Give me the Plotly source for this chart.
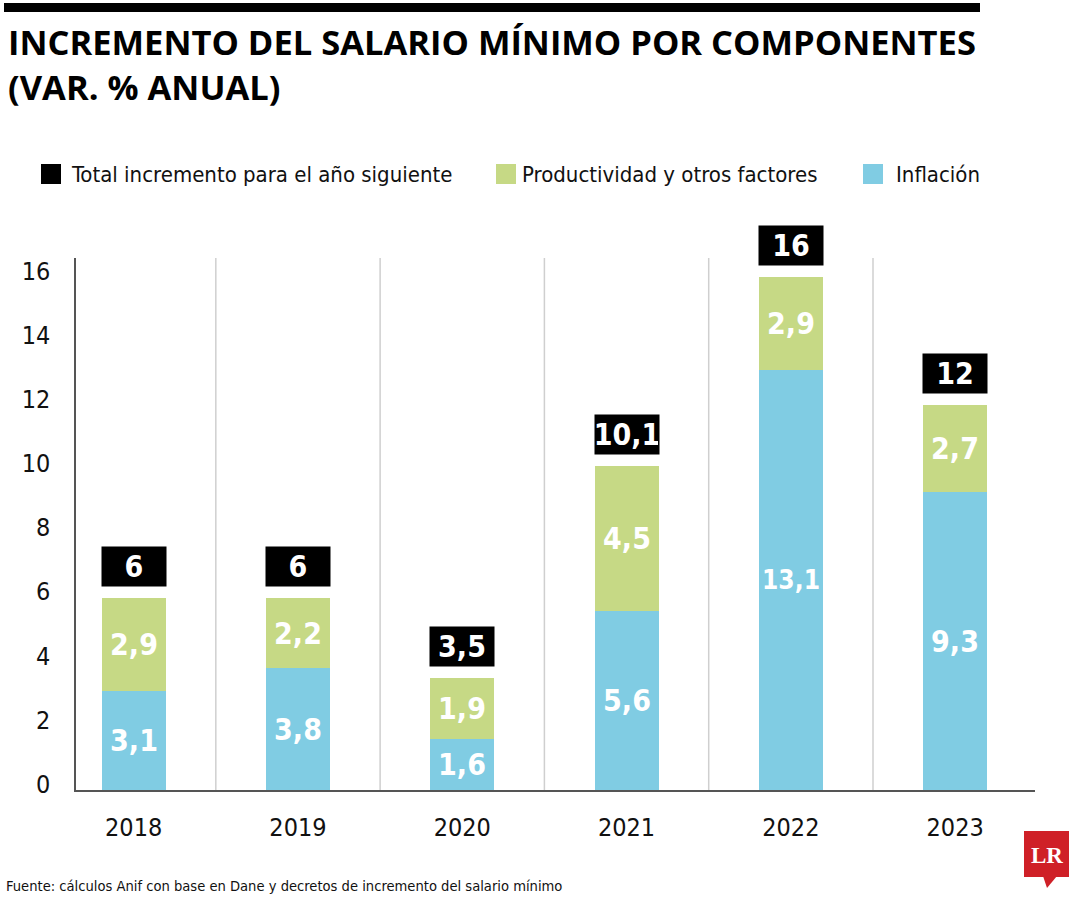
import plotly.graph_objects as go

# ---- data ----
years = ["2018", "2019", "2020", "2021", "2022", "2023"]
inflacion = [3.1, 3.8, 1.6, 5.6, 13.1, 9.3]
productividad = [2.9, 2.2, 1.9, 4.5, 2.9, 2.7]
total = [6, 6, 3.5, 10.1, 16, 12]
y_ticks = [0, 2, 4, 6, 8, 10, 12, 14, 16]

series_names = ["Total incremento para el año siguiente", "Productividad y otros factores", "Inflación"]

BLUE = "#80cce3"
GREEN = "#c6d985"
COND = "DejaVu Sans Condensed, Roboto, sans-serif"

W, H = 1080, 900
L, R, T, B = 76, 1035, 258, 790


def fmt(v):
    return (f"{v:g}").replace(".", ",")


def px(x):
    return (x - L) / (R - L)


def py(y):
    return (B - y) / (B - T)


xpos = list(range(len(years)))

fig = go.Figure()
fig.add_trace(go.Bar(
    x=xpos, y=inflacion, name=series_names[2], marker_color=BLUE, marker_line_width=0,
    width=0.39, text=[fmt(v) for v in inflacion], textposition="inside",
    insidetextanchor="middle", textangle=0,
    textfont=dict(family=COND, size=30, color="white", weight="bold"), showlegend=False,
))
fig.add_trace(go.Bar(
    x=xpos, y=productividad, name=series_names[1], marker_color=GREEN, marker_line_width=0,
    width=0.39, text=[fmt(v) for v in productividad], textposition="inside",
    insidetextanchor="middle", textangle=0,
    textfont=dict(family=COND, size=30, color="white", weight="bold"), showlegend=False,
))

# total boxes
for i, t in enumerate(total):
    fig.add_annotation(
        x=i, y=t, xref="x", yref="y", text=f"<b>{fmt(t)}</b>", showarrow=False,
        xanchor="center", yanchor="bottom", yshift=11, bgcolor="black", width=62, height=37, borderpad=1,
        font=dict(family=COND, size=30, color="white"),
    )

shapes = []
# vertical separators
for k in range(len(years) - 1):
    shapes.append(dict(type="line", xref="x", yref="y", x0=k + 0.5, x1=k + 0.5, y0=0, y1=16.6,
                       line=dict(color="#cfcfcf", width=1.5), layer="below"))
# top black bar
shapes.append(dict(type="rect", xref="paper", yref="paper", x0=px(4), x1=px(980), y0=py(3), y1=py(12),
                   fillcolor="black", line_width=0))
# legend squares
legend_items = [(series_names[0], "black", 41, 69), (series_names[1], GREEN, 496, 520), (series_names[2], BLUE, 863, 894)]
for name, col, sx, tx in legend_items:
    shapes.append(dict(type="rect", xref="paper", yref="paper", x0=px(sx), x1=px(sx + 20), y0=py(164), y1=py(184),
                       fillcolor=col, line_width=0))
    fig.add_annotation(x=px(tx), y=py(175), xref="paper", yref="paper", text=name, showarrow=False,
                       xanchor="left", yanchor="middle", font=dict(family=COND, size=22, color="#111"))

# LR logo
shapes.append(dict(type="rect", xref="paper", yref="paper", x0=px(1024), x1=px(1069), y0=py(831), y1=py(877),
                   fillcolor="#cf2027", line_width=0))
shapes.append(dict(type="path", xref="paper", yref="paper",
                   path=f"M {px(1043)} {py(876)} L {px(1057)} {py(876)} L {px(1047)} {py(888)} Z",
                   fillcolor="#cf2027", line_width=0))
fig.add_annotation(x=px(1046.5), y=py(855), xref="paper", yref="paper", text="<b>LR</b>", showarrow=False,
                   xanchor="center", yanchor="middle",
                   font=dict(family="Liberation Serif, DejaVu Serif, serif", size=23, color="white"))

# title (two lines)
fig.add_annotation(x=px(6), y=py(64.5), xref="paper", yref="paper", xanchor="left", yanchor="middle",
                   align="left",
                   text="<b>INCREMENTO DEL SALARIO MÍNIMO POR COMPONENTES<br>(VAR. % ANUAL)</b>", showarrow=False,
                   font=dict(family="Open Sans, sans-serif", size=34.5, color="black"))
# source
fig.add_annotation(x=px(4), y=py(885), xref="paper", yref="paper", xanchor="left", yanchor="middle",
                   text="Fuente: cálculos Anif con base en Dane y decretos de incremento del salario mínimo",
                   showarrow=False, font=dict(family=COND, size=14.6, color="#111"))

fig.update_layout(
    width=W, height=H, autosize=False,
    margin=dict(l=L, r=W - R, t=T, b=H - B, pad=0),
    barmode="stack", bargap=0,
    plot_bgcolor="white", paper_bgcolor="white",
    shapes=shapes, showlegend=False,
    uniformtext=dict(mode=False),
)
fig.update_xaxes(
    range=[-0.351, 5.486], tickmode="array", tickvals=xpos, ticktext=years,
    showgrid=False, zeroline=False, showline=True, linecolor="#555", linewidth=1.5,
    ticks="", ticklabelstandoff=14, tickfont=dict(family=COND, size=25, color="#111"),
)
fig.update_yaxes(
    range=[0, 16.6], tickmode="array", tickvals=y_ticks, ticktext=[str(v) for v in y_ticks],
    showgrid=False, zeroline=False, showline=True, linecolor="#555", linewidth=1.5,
    ticks="", ticklabelstandoff=19, ticklabelshift=-6, tickfont=dict(family=COND, size=25, color="#111"),
)

fig.write_html("out.html", config={"displayModeBar": False},
               post_script="document.body.style.margin='0';")
